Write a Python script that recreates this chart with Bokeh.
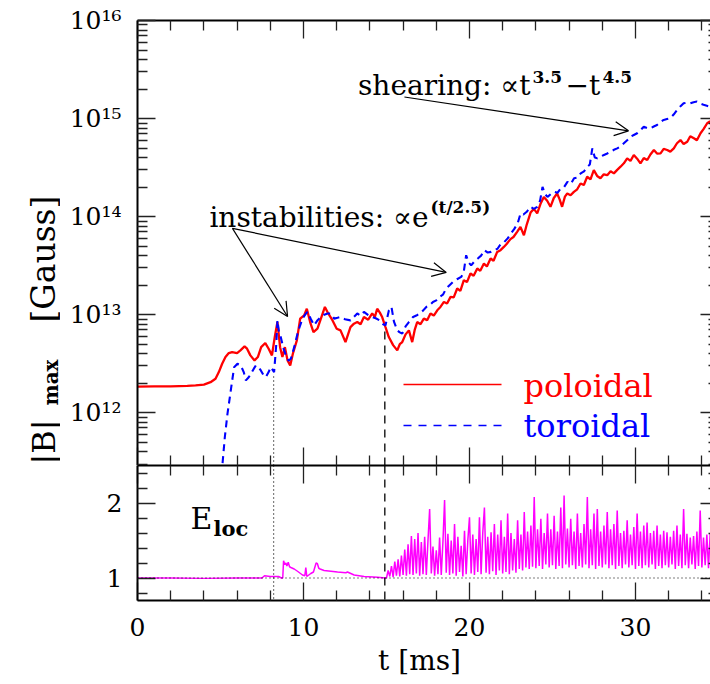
import math
from bokeh.plotting import figure
from bokeh.layouts import column, row
from bokeh.models import (Range1d, LinearAxis, LogAxis, FixedTicker, CustomJSTickFormatter,
                          Label, Arrow, OpenHead, Span)
from bokeh.embed import file_html
from bokeh.resources import INLINE

# ---------------- data ----------------
t_pol = [0.0, 1.0, 2.0, 3.0, 3.5, 4.0, 4.4, 4.7, 4.9, 5.1,
         5.3, 5.5, 5.7, 6.0, 6.2, 6.45, 6.6, 6.8, 7.05, 7.25,
         7.45, 7.7, 7.9, 8.1, 8.27, 8.43, 8.59, 8.73, 8.88, 9.04,
         9.2, 9.36, 9.6, 9.8, 10.04, 10.2, 10.4, 10.6, 10.84, 11.08,
         11.29, 11.49, 11.75, 12.0, 12.23, 12.53, 12.83, 13.04, 13.24, 13.44,
         13.64, 13.9, 14.14, 14.3, 14.44, 14.6, 14.74, 14.94, 15.14, 15.4,
         15.65, 15.8, 15.95, 16.15, 16.35, 16.55, 16.7, 16.85, 17.05, 17.25,
         17.45, 17.65, 17.85, 18.06, 18.25, 18.46, 18.65, 18.86, 19.05, 19.26,
         19.45, 19.66, 19.85, 20.06, 20.25, 20.47, 20.65, 20.87, 21.05, 21.27,
         21.45, 21.67, 21.87, 22.07, 22.25, 22.47, 22.65, 22.87, 23.07, 23.28,
         23.45, 23.68, 23.88, 24.08, 24.28, 24.48, 24.68, 24.88, 25.08, 25.28,
         25.43, 25.58, 25.75, 25.89, 26.09, 26.29, 26.49, 26.69, 26.89, 27.09,
         27.29, 27.49, 27.69, 27.89, 28.09, 28.3, 28.5, 28.7, 28.9, 29.1,
         29.3, 29.5, 29.7, 29.9, 30.1, 30.3, 30.5, 30.71, 30.9, 31.11,
         31.3, 31.51, 31.7, 31.91, 32.1, 32.31, 32.5, 32.71, 32.9, 33.12,
         33.3, 33.52, 33.7, 33.92, 34.1, 34.32, 34.5]
B_pol = [1.85e12, 1.86e12, 1.86e12, 1.88e12, 1.9e12, 1.94e12, 2.05e12, 2.22e12, 2.6e12, 3.16e12,
         3.7e12, 4.06e12, 4.16e12, 4.06e12, 4.33e12, 4.75e12, 4.5e12, 3.85e12, 3.42e12, 3.7e12,
         4.67e12, 5.14e12, 4.5e12, 3.85e12, 5.92e12, 8.42e12, 4.67e12, 3.7e12, 4.67e12, 3.42e12,
         3.04e12, 4.0e12, 5.47e12, 9.12e12, 9.86e12, 1.15e13, 8.42e12, 6.65e12, 7.2e12, 9.47e12,
         1.2e13, 1.03e13, 8.75e12, 7.2e12, 6.92e12, 5.26e12, 7.48e12, 8.1e12, 8.42e12, 8.0e12,
         9.47e12, 8.9e12, 1.03e13, 9.5e12, 1.15e13, 1.05e13, 9.47e12, 7.48e12, 5.92e12, 4.9e12,
         4.33e12, 5.0e12, 5.26e12, 6.3e12, 6.92e12, 5.26e12, 7.0e12, 8.42e12, 8.0e12, 9.12e12,
         8.8e12, 1.03e13, 9.8e12, 1.11e13, 1.2e13, 1.35e13, 1.3e13, 1.52e13, 1.5e13, 1.85e13,
         1.75e13, 2.25e13, 2.15e13, 2.63e13, 2.5e13, 2.96e13, 2.8e13, 3.32e13, 3.1e13, 3.74e13,
         3.55e13, 4.37e13, 4.55e13, 4.91e13, 5.3e13, 5.9e13, 6.2e13, 7.0e13, 7.86e13, 6.47e13,
         8.3e13, 1.1e14, 1.2e14, 1.08e14, 1.35e14, 1.59e14, 1.45e14, 1.26e14, 1.55e14, 1.72e14,
         1.5e14, 1.26e14, 1.6e14, 1.72e14, 1.65e14, 1.79e14, 1.9e14, 2.18e14, 2.1e14, 2.55e14,
         2.4e14, 2.98e14, 2.6e14, 2.46e14, 2.7e14, 2.65e14, 2.9e14, 2.76e14, 3.0e14, 3.23e14,
         3.5e14, 3.93e14, 3.7e14, 4.25e14, 3.9e14, 3.49e14, 3.95e14, 3.78e14, 4.3e14, 4.78e14,
         4.4e14, 4.42e14, 4.9e14, 4.78e14, 4.6e14, 4.97e14, 5.6e14, 6.04e14, 5.5e14, 5.81e14,
         6.6e14, 6.29e14, 6.0e14, 7.08e14, 7.8e14, 8.96e14, 9.4e14]

t_tor = [4.8, 5.0, 5.12, 5.26, 5.42, 5.62, 5.82, 6.02, 6.22, 6.4,
         6.53, 6.7, 6.83, 7.0, 7.13, 7.3, 7.43, 7.6, 7.73, 7.9,
         8.03, 8.23, 8.36, 8.43, 8.53, 8.63, 8.8, 8.94, 9.1, 9.24,
         9.44, 9.64, 9.8, 9.94, 10.1, 10.24, 10.45, 10.64, 10.85, 11.04,
         11.25, 11.45, 11.63, 11.85, 12.05, 12.23, 12.5, 12.83, 13.04, 13.24,
         13.44, 13.64, 13.9, 14.14, 14.35, 14.6, 14.8, 14.94, 15.14, 15.3,
         15.45, 15.65, 15.8, 15.95, 16.15, 16.35, 16.6, 16.8, 17.0, 17.2,
         17.4, 17.6, 17.8, 18.0, 18.2, 18.4, 18.6, 18.8, 19.0, 19.25,
         19.5, 19.65, 19.8, 19.95, 20.1, 20.3, 20.5, 20.7, 20.9, 21.1,
         21.3, 21.5, 21.7, 21.9, 22.1, 22.3, 22.5, 22.7, 22.9, 23.08,
         23.25, 23.45, 23.68, 23.88, 24.08, 24.25, 24.4, 24.55, 24.7, 24.9,
         25.1, 25.3, 25.5, 25.7, 25.9, 26.1, 26.3, 26.5, 26.7, 26.9,
         27.1, 27.25, 27.4, 27.55, 27.7, 27.9, 28.1, 28.3, 28.5, 28.7,
         28.9, 29.1, 29.3, 29.5, 29.7, 29.9, 30.1, 30.3, 30.5, 30.7,
         30.9, 31.1, 31.3, 31.5, 31.7, 31.9, 32.1, 32.3, 32.5, 32.7,
         32.9, 33.1, 33.3, 33.5, 33.7, 33.9, 34.1, 34.3, 34.5]
B_tor = [1.0e11, 2.0e11, 3.0e11, 5.63e11, 9.76e11, 1.69e12, 2.92e12, 3.16e12, 3.04e12, 2.6e12,
         2.14e12, 2.3e12, 2.5e12, 2.8e12, 3.04e12, 2.9e12, 2.7e12, 2.4e12, 2.31e12, 2.6e12,
         2.92e12, 2.6e12, 5.0e12, 8.75e12, 6.5e12, 5.92e12, 4.5e12, 3.85e12, 3.4e12, 3.56e12,
         4.67e12, 6.41e12, 7.8e12, 9.12e12, 1.0e13, 1.07e13, 9.0e12, 7.79e12, 8.8e12, 9.47e12,
         1.0e13, 1.03e13, 1.03e13, 9.12e12, 9.3e12, 9.47e12, 9.0e12, 8.75e12, 9.5e12, 1.03e13,
         9.8e12, 1.07e13, 9.9e12, 9.47e12, 9.2e12, 8.75e12, 8.0e12, 7.79e12, 1.1e13, 1.2e13,
         8.5e12, 6.92e12, 6.6e12, 6.41e12, 7.6e12, 8.42e12, 9.47e12, 9.8e12, 1.03e13, 1.1e13,
         1.2e13, 1.25e13, 1.35e13, 1.4e13, 1.52e13, 1.6e13, 1.85e13, 2.0e13, 2.16e13, 2.3e13,
         2.43e13, 2.7e13, 4.04e13, 3.4e13, 3.19e13, 3.5e13, 3.74e13, 4.0e13, 4.55e13, 4.3e13,
         4.37e13, 4.5e13, 4.73e13, 5.32e13, 5.52e13, 6.0e13, 6.73e13, 7.5e13, 8.51e13, 1.08e14,
         1.05e14, 1.12e14, 1.26e14, 1.2e14, 1.26e14, 1.45e14, 2.01e14, 1.7e14, 1.59e14, 1.7e14,
         1.79e14, 1.75e14, 1.94e14, 2.0e14, 2.26e14, 2.15e14, 2.46e14, 2.5e14, 2.76e14, 2.9e14,
         3.23e14, 3.4e14, 4.97e14, 4.0e14, 3.93e14, 4.1e14, 4.25e14, 4.4e14, 4.59e14, 4.8e14,
         4.97e14, 5.2e14, 5.59e14, 6.0e14, 6.53e14, 6.8e14, 7.08e14, 7.6e14, 8.26e14, 8.0e14,
         7.96e14, 8.3e14, 8.6e14, 9.2e14, 9.68e14, 9.9e14, 1.01e15, 1.1e15, 1.22e15, 1.33e15,
         1.43e15, 1.45e15, 1.43e15, 1.47e15, 1.49e15, 1.42e15, 1.38e15, 1.35e15, 1.32e15]

t_eloc = [0.0, 2.0, 4.0, 6.0, 7.5, 7.65, 8.0, 8.5, 8.67, 8.75,
          8.8, 8.87, 8.94, 9.0, 9.08, 9.16, 9.24, 9.44, 9.64, 9.94,
          10.08, 10.14, 10.2, 10.44, 10.6, 10.68, 10.76, 10.84, 10.92, 11.0,
          11.24, 11.65, 12.05, 12.55, 12.65, 13.05, 13.65, 14.46, 14.94,
          15.0, 15.1, 15.2, 15.3, 15.4, 15.5, 15.6, 15.7, 15.8, 15.9,
          16.0, 16.1, 16.2, 16.3, 16.4, 16.5, 16.6, 16.7, 16.8, 16.9,
          17.0, 17.1, 17.2, 17.3, 17.4, 17.5, 17.6, 17.7, 17.8, 17.9,
          18.0, 18.1, 18.2, 18.3, 18.4, 18.5, 18.6, 18.7, 18.8, 18.9,
          19.0, 19.1, 19.2, 19.3, 19.4, 19.5, 19.6, 19.7, 19.8, 19.9,
          20.0, 20.1, 20.2, 20.3, 20.4, 20.5, 20.6, 20.7, 20.8, 20.9,
          21.0, 21.1, 21.2, 21.3, 21.4, 21.5, 21.6, 21.7, 21.8, 21.9,
          22.0, 22.1, 22.2, 22.3, 22.4, 22.5, 22.6, 22.7, 22.8, 22.9,
          23.0, 23.1, 23.2, 23.3, 23.4, 23.5, 23.6, 23.7, 23.8, 23.9,
          24.0, 24.1, 24.2, 24.3, 24.4, 24.5, 24.6, 24.7, 24.8, 24.9,
          25.0, 25.1, 25.2, 25.3, 25.4, 25.5, 25.6, 25.7, 25.8, 25.9,
          26.0, 26.1, 26.2, 26.3, 26.4, 26.5, 26.6, 26.7, 26.8, 26.9,
          27.0, 27.1, 27.2, 27.3, 27.4, 27.5, 27.6, 27.7, 27.8, 27.9,
          28.0, 28.1, 28.2, 28.3, 28.4, 28.5, 28.6, 28.7, 28.8, 28.9,
          29.0, 29.1, 29.2, 29.3, 29.4, 29.5, 29.6, 29.7, 29.8, 29.9,
          30.0, 30.1, 30.2, 30.3, 30.4, 30.5, 30.6, 30.7, 30.8, 30.9,
          31.0, 31.1, 31.2, 31.3, 31.4, 31.5, 31.6, 31.7, 31.8, 31.9,
          32.0, 32.1, 32.2, 32.3, 32.4, 32.5, 32.6, 32.7, 32.8, 32.9,
          33.0, 33.1, 33.2, 33.3, 33.4, 33.5, 33.6, 33.7, 33.8, 33.9,
          34.0, 34.1, 34.2, 34.3, 34.4, 34.5]
eloc = [1.0, 1.0, 0.995, 1.0, 1.0, 1.03, 1.02, 1.02, 1.0, 1.0,
        1.23, 1.18, 1.2, 1.16, 1.21, 1.15, 1.14, 1.12, 1.09, 1.04,
        1.03, 1.14, 1.02, 1.06, 1.08, 1.14, 1.2, 1.19, 1.13, 1.12,
        1.10, 1.09, 1.08, 1.07, 1.08, 1.04, 1.02, 1.01, 1.0,
        1.00, 1.10, 1.02, 1.16, 1.01, 1.22, 1.03, 1.25, 1.02, 1.30,
        1.04, 1.38, 1.03, 1.45, 1.05, 1.56, 1.04, 1.52, 1.06, 1.60,
        1.03, 1.48, 1.05, 1.55, 1.04, 1.50, 1.92, 1.06, 1.42, 1.03,
        1.37, 1.05, 1.54, 1.04, 1.48, 2.04, 1.07, 1.59, 1.04, 1.50,
        1.06, 1.72, 1.03, 1.55, 1.08, 1.43, 1.02, 1.63, 1.05, 1.50,
        1.81, 1.06, 1.58, 1.04, 1.52, 1.08, 1.81, 1.05, 1.60, 1.94,
        1.07, 1.55, 1.05, 1.61, 1.09, 1.72, 1.04, 1.58, 1.10, 1.77,
        1.06, 1.55, 1.08, 1.86, 1.05, 1.60, 1.10, 1.52, 1.07, 1.77,
        1.12, 1.58, 1.10, 1.88, 1.14, 1.62, 1.12, 1.70, 1.15, 2.08,
        1.13, 1.65, 1.16, 1.79, 1.12, 1.60, 1.18, 1.86, 1.14, 1.65,
        1.17, 1.83, 1.12, 1.62, 1.16, 1.94, 1.13, 2.10, 1.18, 1.66,
        1.14, 1.79, 1.17, 1.62, 1.12, 1.86, 1.16, 1.60, 1.14, 1.72,
        1.18, 2.08, 1.13, 1.65, 1.17, 1.86, 1.12, 1.92, 1.16, 1.62,
        1.14, 1.70, 1.18, 1.88, 1.13, 1.65, 1.17, 1.72, 1.12, 1.90,
        1.16, 1.60, 1.13, 1.63, 1.18, 1.77, 1.14, 1.58, 1.17, 1.68,
        1.12, 1.86, 1.16, 1.62, 1.13, 1.70, 1.17, 1.74, 1.14, 1.60,
        1.18, 1.63, 1.12, 1.70, 1.16, 1.58, 1.13, 1.63, 1.17, 1.61,
        1.14, 1.55, 1.18, 1.63, 1.12, 1.70, 1.16, 1.58, 1.13, 1.92,
        1.17, 1.59, 1.13, 1.54, 1.18, 1.56, 1.12, 1.62, 1.16, 1.90,
        1.14, 1.54, 1.17, 1.58, 1.13, 1.59]

# marker times (ms) and the heights reached by the reference lines in the top panel
t_onset, t_growth = 8.2, 14.9
B_onset_top, B_growth_top = 2.4e12, 6.9e12
eloc_ref = 1.0

# axis ticks
t_ticks = [0, 10, 20, 30]
t_minor = [2, 4, 6, 8, 12, 14, 16, 18, 22, 24, 26, 28, 32, 34]
b_ticks = [1e12, 1e13, 1e14, 1e15, 1e16]
b_tick_labels = ["10\u00b9\u00b2", "10\u00b9\u00b3", "10\u00b9\u2074", "10\u00b9\u2075", "10\u00b9\u2076"]
b_minor = [m * 10.0 ** e for e in range(11, 16) for m in range(2, 10)]
e_ticks = [1, 2]
e_minor = [0.8, 1.2, 1.4, 1.6, 1.8, 2.2, 2.4]

T_RANGE = (0.0, 34.52)
B_RANGE = (2.9e11, 1e16)
E_RANGE = (0.7, 2.5)

# ---------------- styling ----------------
FONT = "DejaVu Serif"
RED, BLUE, MAG = "#ff0000", "#0000ff", "#ff00ff"
TICK_COL = "#222222"
TITLE_W = 60   # width of the strip that carries the rotated y title
xr = Range1d(*T_RANGE)


def style_axis(ax, major_in=18, minor_in=10, labels=True, line=True, size="25px", standoff=16):
    ax.major_tick_in = major_in
    ax.major_tick_out = 0
    ax.minor_tick_in = minor_in
    ax.minor_tick_out = 0
    ax.major_tick_line_color = TICK_COL
    ax.minor_tick_line_color = TICK_COL
    ax.major_tick_line_width = 1.3
    ax.minor_tick_line_width = 1.3
    if line:
        ax.axis_line_color = "black"
        ax.axis_line_width = 2
    else:
        ax.axis_line_color = None
    ax.major_label_text_font = FONT
    if labels:
        ax.major_label_text_font_size = size
        ax.major_label_text_color = "black"
        ax.major_label_standoff = standoff
    else:
        ax.formatter = CustomJSTickFormatter(code="return '';")
        ax.major_label_text_font_size = "1px"
        ax.major_label_standoff = 0
    return ax


def lab(p, x, y, text, size, color="black", align="left", style="normal", angle=0.0):
    p.add_layout(Label(x=x, y=y, x_units="screen", y_units="screen", text=text,
                       text_font=FONT, text_font_size=size, text_color=color,
                       text_align=align, text_baseline="alphabetic",
                       text_font_style=style, angle=angle))


# ---------------- y-title strip ----------------
tfig = figure(width=TITLE_W, height=465, x_range=Range1d(0, TITLE_W), y_range=Range1d(0, 465),
              x_axis_location=None, y_axis_location=None, output_backend="svg",
              toolbar_location=None, min_border=0)
tfig.outline_line_color = None
tfig.grid.visible = False
tfig.border_fill_color = "white"
lab(tfig, 43, 1, "|B|", "32px", angle=math.pi / 2)
lab(tfig, 50, 60, "max", "20px", style="bold", angle=math.pi / 2)
lab(tfig, 43, 143, "[Gauss]", "33px", angle=math.pi / 2)

# ---------------- top panel ----------------
p1 = figure(width=710 - TITLE_W, height=465, x_range=xr, y_range=Range1d(*B_RANGE),
            y_axis_type="log", x_axis_location=None, y_axis_location=None,
            output_backend="svg", toolbar_location=None, min_border_left=137 - TITLE_W,
            min_border_right=0, min_border_top=20, min_border_bottom=0)
p1.outline_line_color = None
p1.grid.visible = False
p1.background_fill_color = "white"
p1.border_fill_color = "white"

fmt = CustomJSTickFormatter(args=dict(bt=b_ticks, bl=b_tick_labels), code="""
for (let i = 0; i < bt.length; i++) {
  if (Math.abs(Math.log10(bt[i]) - Math.log10(tick)) < 1e-6) { return bl[i]; }
}
return "";
""")
yl = LogAxis(ticker=FixedTicker(ticks=b_ticks, minor_ticks=b_minor), formatter=fmt)
style_axis(yl, standoff=16)
p1.add_layout(yl, "left")
yr = LogAxis(ticker=FixedTicker(ticks=b_ticks, minor_ticks=b_minor))
style_axis(yr, major_in=10, minor_in=2, labels=False, line=False)
p1.add_layout(yr, "right")
for loc in ("above", "below"):
    ax = LinearAxis(ticker=FixedTicker(ticks=t_ticks, minor_ticks=t_minor))
    style_axis(ax, labels=False)
    p1.add_layout(ax, loc)

p1.line(t_pol, B_pol, line_color=RED, line_width=2.3)
p1.line(t_tor, B_tor, line_color=BLUE, line_width=2.1, line_dash="7 5")
p1.segment(x0=[t_onset], y0=[B_RANGE[0]], x1=[t_onset], y1=[B_onset_top],
           line_color="black", line_width=1.2, line_dash="1 3")
p1.segment(x0=[t_growth], y0=[B_RANGE[0]], x1=[t_growth], y1=[B_growth_top],
           line_color="black", line_width=1.3, line_dash="8 6")

# annotation arrows (data coordinates)
for (xs, ys, xe, ye) in [(5.72, 7.6e13, 9.04, 9.6e12), (5.72, 7.6e13, 18.6, 2.7e13),
                         (16.08, 1.66e15, 29.58, 7.5e14)]:
    p1.add_layout(Arrow(end=OpenHead(size=14, line_width=1.2, line_color="black"),
                        x_start=xs, y_start=ys, x_end=xe, y_end=ye,
                        line_width=1.2, line_color="black"))

# annotation texts (top panel frame: left=137, bottom=465 in page pixels)
lab(p1, 393, 380, "shearing: \u221dt", "28px", align="right")
lab(p1, 395, 389, "3.5", "17px", style="bold")
lab(p1, 428, 380, "\u2212t", "28px")
lab(p1, 465, 389, "4.5", "17px", style="bold")
lab(p1, 291, 248, "instabilities: \u221de", "28px", align="right")
lab(p1, 293, 259, "(t/2.5)", "17px", style="bold")

# legend: sample lines drawn as headless arrows in frame pixels
p1.add_layout(Arrow(end=None, x_start=266, y_start=81, x_end=364, y_end=81,
                    start_units="screen", end_units="screen", line_color=RED, line_width=1.5))
p1.add_layout(Arrow(end=None, x_start=266, y_start=40, x_end=364, y_end=40,
                    start_units="screen", end_units="screen", line_color=BLUE,
                    line_width=1.5, line_dash="8 7"))
lab(p1, 386, 80, "poloidal", "32px", color=RED)
lab(p1, 386, 40, "toroidal", "32px", color=BLUE)

# ---------------- bottom panel ----------------
p2 = figure(width=710, height=219, x_range=xr, y_range=Range1d(*E_RANGE),
            x_axis_location=None, y_axis_location=None, output_backend="svg",
            toolbar_location=None, min_border_left=137, min_border_right=0,
            min_border_top=0, min_border_bottom=84)
p2.outline_line_color = None
p2.grid.visible = False
p2.background_fill_color = "white"
p2.border_fill_color = "white"

el = LinearAxis(ticker=FixedTicker(ticks=e_ticks, minor_ticks=e_minor))
style_axis(el, standoff=15)
p2.add_layout(el, "left")
er = LinearAxis(ticker=FixedTicker(ticks=e_ticks, minor_ticks=e_minor))
style_axis(er, major_in=10, minor_in=2, labels=False, line=False)
p2.add_layout(er, "right")
ea = LinearAxis(ticker=FixedTicker(ticks=t_ticks, minor_ticks=t_minor))
style_axis(ea, labels=False)
p2.add_layout(ea, "above")
eb = LinearAxis(ticker=FixedTicker(ticks=t_ticks, minor_ticks=t_minor), axis_label="t  [ms]")
style_axis(eb, standoff=17)
eb.axis_label_text_font = FONT
eb.axis_label_text_font_size = "28px"
eb.axis_label_text_font_style = "normal"
eb.axis_label_text_color = "black"
eb.axis_label_standoff = 5
p2.add_layout(eb, "below")

p2.add_layout(Span(location=eloc_ref, dimension="width", line_color="black",
                   line_width=1.2, line_dash="1 3"))
p2.add_layout(Span(location=t_onset, dimension="height", line_color="black",
                   line_width=1.2, line_dash="1 3"))
p2.add_layout(Span(location=t_growth, dimension="height", line_color="black",
                   line_width=1.3, line_dash="8 6"))
p2.line(t_eloc, eloc, line_color=MAG, line_width=1.5)

lab(p2, 53, 82, "E", "30px")
lab(p2, 76, 72, "loc", "21px", style="bold")

layout = column(row(tfig, p1, spacing=0), p2, spacing=0)
open("out.html", "w").write(file_html(layout, INLINE))
